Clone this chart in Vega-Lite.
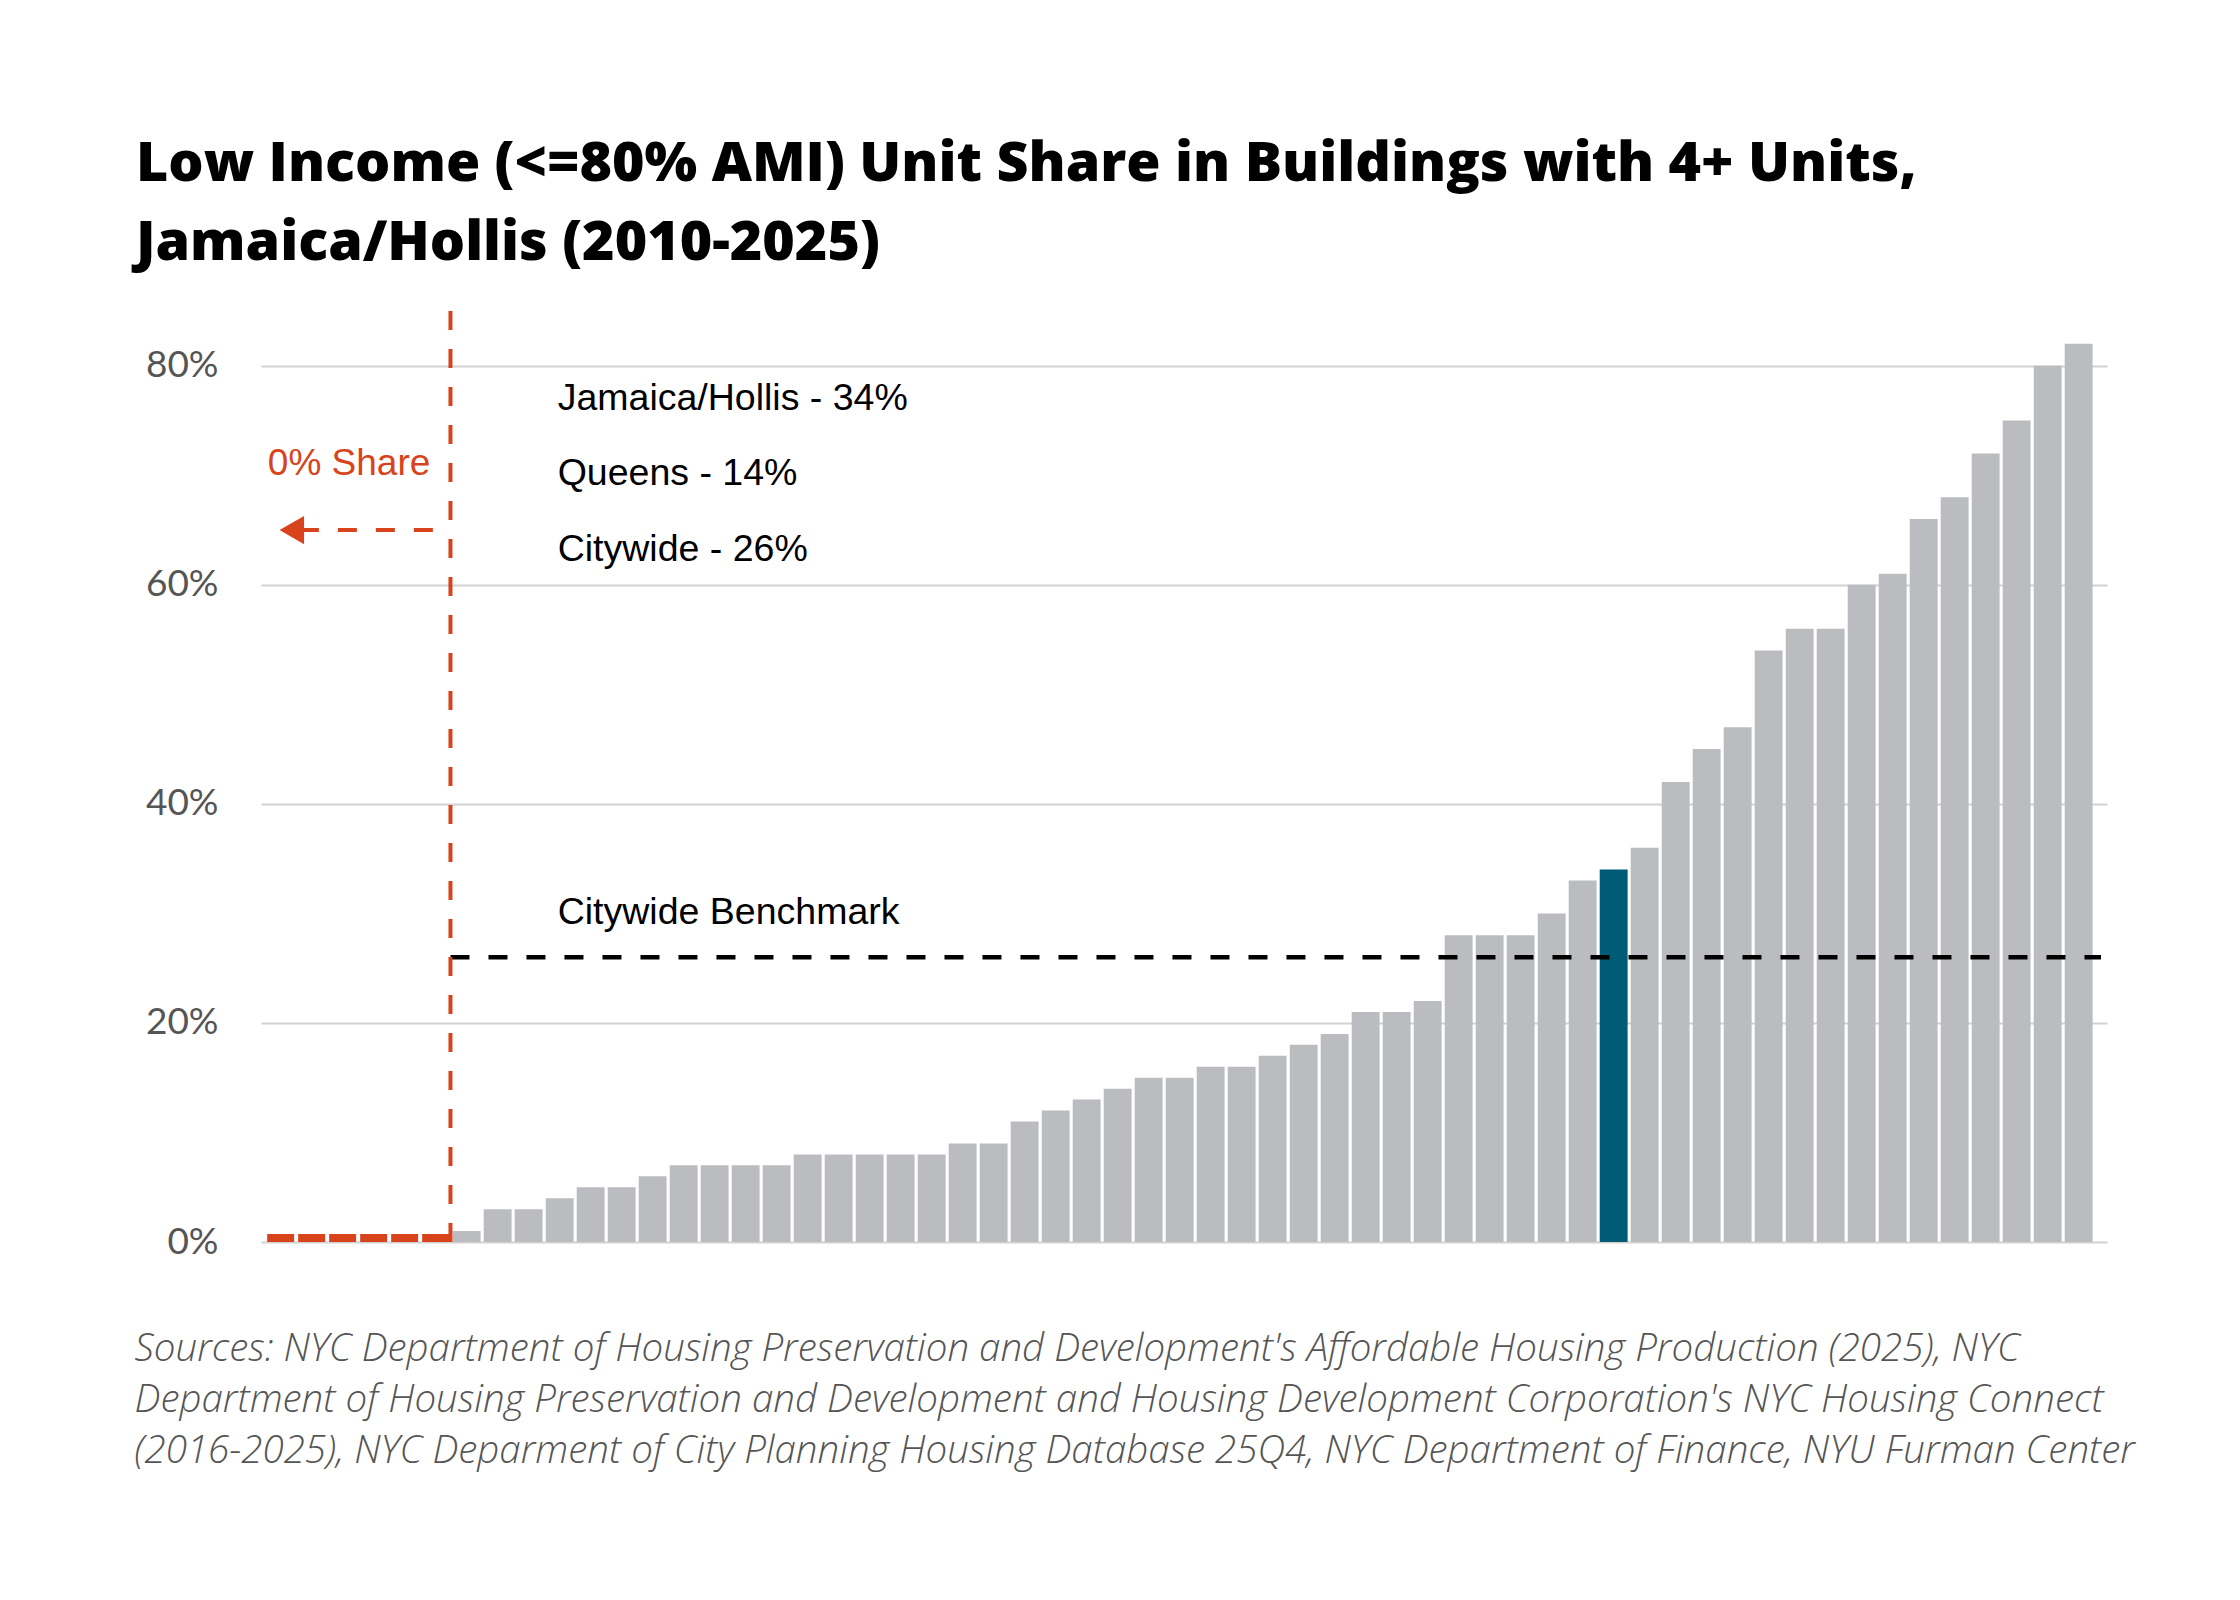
{
  "$schema": "https://vega.github.io/schema/vega-lite/v6.json",
  "description": "Low income unit share by community district, sorted, with Jamaica/Hollis highlighted and the citywide benchmark.",
  "autosize": {"type": "none"},
  "padding": {"left": 261, "top": 311, "right": 133, "bottom": 358},
  "width": 1846,
  "height": 931,
  "background": "#ffffff",
  "title": {
    "text": ["Low Income (<=80% AMI) Unit Share in Buildings with 4+ Units,", "Jamaica/Hollis (2010-2025)"],
    "anchor": "start",
    "frame": "group",
    "dx": -125,
    "offset": 38,
    "font": "Open Sans",
    "fontSize": 55.5,
    "fontWeight": 800,
    "lineHeight": 79,
    "color": "#000000"
  },
  "datasets": {
    "districts": [
      {"rank": 1, "share": 0, "group": "Other"},
      {"rank": 2, "share": 0, "group": "Other"},
      {"rank": 3, "share": 0, "group": "Other"},
      {"rank": 4, "share": 0, "group": "Other"},
      {"rank": 5, "share": 0, "group": "Other"},
      {"rank": 6, "share": 0, "group": "Other"},
      {"rank": 7, "share": 0.01, "group": "Other"},
      {"rank": 8, "share": 0.03, "group": "Other"},
      {"rank": 9, "share": 0.03, "group": "Other"},
      {"rank": 10, "share": 0.04, "group": "Other"},
      {"rank": 11, "share": 0.05, "group": "Other"},
      {"rank": 12, "share": 0.05, "group": "Other"},
      {"rank": 13, "share": 0.06, "group": "Other"},
      {"rank": 14, "share": 0.07, "group": "Other"},
      {"rank": 15, "share": 0.07, "group": "Other"},
      {"rank": 16, "share": 0.07, "group": "Other"},
      {"rank": 17, "share": 0.07, "group": "Other"},
      {"rank": 18, "share": 0.08, "group": "Other"},
      {"rank": 19, "share": 0.08, "group": "Other"},
      {"rank": 20, "share": 0.08, "group": "Other"},
      {"rank": 21, "share": 0.08, "group": "Other"},
      {"rank": 22, "share": 0.08, "group": "Other"},
      {"rank": 23, "share": 0.09, "group": "Other"},
      {"rank": 24, "share": 0.09, "group": "Other"},
      {"rank": 25, "share": 0.11, "group": "Other"},
      {"rank": 26, "share": 0.12, "group": "Other"},
      {"rank": 27, "share": 0.13, "group": "Other"},
      {"rank": 28, "share": 0.14, "group": "Other"},
      {"rank": 29, "share": 0.15, "group": "Other"},
      {"rank": 30, "share": 0.15, "group": "Other"},
      {"rank": 31, "share": 0.16, "group": "Other"},
      {"rank": 32, "share": 0.16, "group": "Other"},
      {"rank": 33, "share": 0.17, "group": "Other"},
      {"rank": 34, "share": 0.18, "group": "Other"},
      {"rank": 35, "share": 0.19, "group": "Other"},
      {"rank": 36, "share": 0.21, "group": "Other"},
      {"rank": 37, "share": 0.21, "group": "Other"},
      {"rank": 38, "share": 0.22, "group": "Other"},
      {"rank": 39, "share": 0.28, "group": "Other"},
      {"rank": 40, "share": 0.28, "group": "Other"},
      {"rank": 41, "share": 0.28, "group": "Other"},
      {"rank": 42, "share": 0.30, "group": "Other"},
      {"rank": 43, "share": 0.33, "group": "Other"},
      {"rank": 44, "share": 0.34, "group": "Jamaica/Hollis"},
      {"rank": 45, "share": 0.36, "group": "Other"},
      {"rank": 46, "share": 0.42, "group": "Other"},
      {"rank": 47, "share": 0.45, "group": "Other"},
      {"rank": 48, "share": 0.47, "group": "Other"},
      {"rank": 49, "share": 0.54, "group": "Other"},
      {"rank": 50, "share": 0.56, "group": "Other"},
      {"rank": 51, "share": 0.56, "group": "Other"},
      {"rank": 52, "share": 0.60, "group": "Other"},
      {"rank": 53, "share": 0.61, "group": "Other"},
      {"rank": 54, "share": 0.66, "group": "Other"},
      {"rank": 55, "share": 0.68, "group": "Other"},
      {"rank": 56, "share": 0.72, "group": "Other"},
      {"rank": 57, "share": 0.75, "group": "Other"},
      {"rank": 58, "share": 0.80, "group": "Other"},
      {"rank": 59, "share": 0.82, "group": "Other"}
    ],
    "benchmark": [{"label": "Citywide Benchmark", "share": 0.26}],
    "summary": [{"lines": ["Jamaica/Hollis - 34%", "Queens - 14%", "Citywide - 26%"]}],
    "zeroNote": [{"label": "0% Share"}]
  },
  "layer": [
    {
      "data": {"name": "districts"},
      "transform": [{"filter": "datum.share > 0"}],
      "mark": {"type": "bar"},
      "encoding": {
        "x": {
          "field": "rank",
          "type": "ordinal",
          "scale": {"paddingInner": 0.1, "paddingOuter": 0.324, "align": 0.284},
          "axis": {
            "labels": false,
            "ticks": false,
            "domain": false,
            "grid": false,
            "title": [
              "Sources: NYC Department of Housing Preservation and Development's Affordable Housing Production (2025), NYC",
              "Department of Housing Preservation and Development and Housing Development Corporation's NYC Housing Connect",
              "\u2002(2016-2025), NYC Deparment of City Planning Housing Database 25Q4, NYC Department of Finance, NYU Furman Center"
            ],
            "titleAnchor": "start",
            "titleAlign": "left",
            "titleBaseline": "alphabetic",
            "titleX": -127,
            "titleY": 118,
            "titleLineHeight": 51,
            "titleFont": "Open Sans",
            "titleFontStyle": "italic",
            "titleFontWeight": 300,
            "titleFontSize": 38.5,
            "titleColor": "#555555",
            "titleLimit": 2200
          }
        },
        "y": {
          "field": "share",
          "type": "quantitative",
          "scale": {"domain": [0, 0.85], "nice": false},
          "axis": {
            "title": null,
            "values": [0, 0.2, 0.4, 0.6, 0.8],
            "format": ".0%",
            "ticks": false,
            "domain": false,
            "grid": true,
            "gridColor": "#d2d2d2",
            "gridWidth": 2,
            "labelPadding": 43,
            "labelFont": "Lato",
            "labelFontSize": 37,
            "labelColor": "#555555"
          }
        },
        "color": {
          "field": "group",
          "type": "nominal",
          "scale": {"domain": ["Jamaica/Hollis", "Other"], "range": ["#005b76", "#bbbcc0"]},
          "legend": null
        }
      }
    },
    {
      "data": {"name": "districts"},
      "transform": [{"filter": "datum.share === 0"}],
      "mark": {"type": "tick", "color": "#d8431b", "size": 27, "thickness": 8, "yOffset": -4, "opacity": 1},
      "encoding": {
        "x": {"field": "rank", "type": "ordinal"},
        "y": {"field": "share", "type": "quantitative"}
      }
    },
    {
      "data": {"name": "benchmark"},
      "mark": {"type": "rule", "color": "#000000", "strokeWidth": 4.5, "strokeDash": [19, 19]},
      "encoding": {
        "x": {"datum": 7, "type": "ordinal", "bandPosition": -0.08},
        "x2": {"datum": 59, "bandPosition": 1.3},
        "y": {"field": "share", "type": "quantitative"}
      }
    },
    {
      "data": {"name": "zeroNote"},
      "mark": {"type": "rule", "color": "#d8431b", "strokeWidth": 4, "strokeDash": [19, 19]},
      "encoding": {
        "x": {"datum": 7, "type": "ordinal", "bandPosition": -0.08},
        "y": {"datum": 0.85, "type": "quantitative"},
        "y2": {"datum": 0}
      }
    },
    {
      "data": {"name": "zeroNote"},
      "mark": {"type": "rule", "color": "#d8431b", "strokeWidth": 4, "strokeDash": [19, 19]},
      "encoding": {
        "x": {"datum": 6, "type": "ordinal", "bandPosition": 0.4},
        "x2": {"datum": 2, "bandPosition": 0.19},
        "y": {"datum": 0.65, "type": "quantitative"}
      }
    },
    {
      "data": {"name": "zeroNote"},
      "mark": {"type": "point", "shape": "triangle-left", "filled": true, "color": "#d8431b", "size": 800, "opacity": 1},
      "encoding": {
        "x": {"datum": 1, "type": "ordinal", "bandPosition": 0.9},
        "y": {"datum": 0.65, "type": "quantitative"}
      }
    },
    {
      "data": {"name": "zeroNote"},
      "mark": {"type": "text", "align": "left", "baseline": "alphabetic", "font": "Liberation Sans", "fontSize": 37, "color": "#d8431b"},
      "encoding": {
        "x": {"datum": 1, "type": "ordinal", "bandPosition": 0.04},
        "y": {"datum": 0.70, "type": "quantitative"},
        "text": {"field": "label"}
      }
    },
    {
      "data": {"name": "summary"},
      "mark": {"type": "text", "align": "left", "baseline": "alphabetic", "font": "Liberation Sans", "fontSize": 37.5, "lineHeight": 75.6, "color": "#000000"},
      "encoding": {
        "x": {"datum": 10, "type": "ordinal", "bandPosition": 0.43},
        "y": {"datum": 0.76, "type": "quantitative"},
        "text": {"field": "lines"}
      }
    },
    {
      "data": {"name": "benchmark"},
      "mark": {"type": "text", "align": "left", "baseline": "alphabetic", "font": "Liberation Sans", "fontSize": 37.5, "color": "#000000"},
      "encoding": {
        "x": {"datum": 10, "type": "ordinal", "bandPosition": 0.43},
        "y": {"datum": 0.29, "type": "quantitative"},
        "text": {"field": "label"}
      }
    }
  ],
  "config": {
    "view": {"stroke": null}
  }
}
